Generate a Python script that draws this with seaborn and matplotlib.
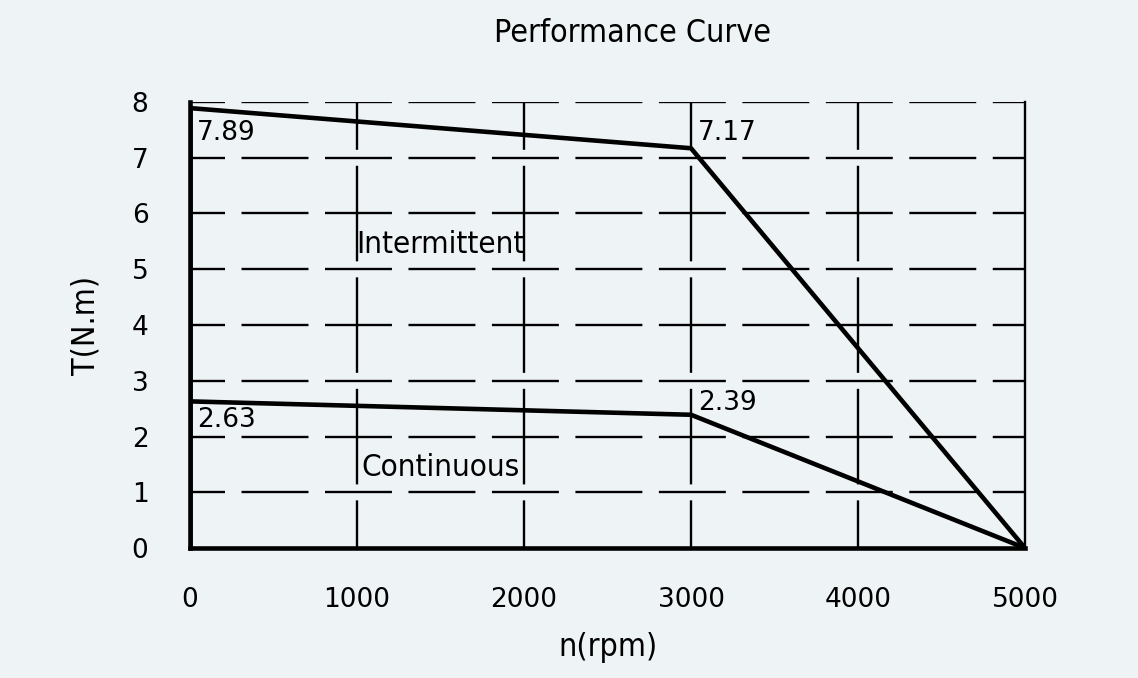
import matplotlib
matplotlib.use('Agg')
import matplotlib.pyplot as plt
import seaborn as sns
import pandas as pd

# 데이터
speed = [0, 3000, 5000]
torque_peak = [7.89, 7.17, 0]
torque_cont = [2.63, 2.39, 0]
x_ticks = [0, 1000, 2000, 3000, 4000, 5000]
y_ticks = [0, 1, 2, 3, 4, 5, 6, 7, 8]

df = pd.DataFrame({'n': speed, 'peak': torque_peak, 'cont': torque_cont})

bg = '#eef3f6'
sns.set_theme(style='white')
plt.rcParams['font.family'] = ['DejaVu Sans']
plt.rcParams['text.color'] = 'black'
plt.rcParams['lines.scale_dashes'] = False

fig = plt.figure(figsize=(11.38, 6.78), dpi=100, facecolor=bg)
ax = fig.add_axes([0.167, 0.1917, 0.7337, 0.6579])
ax.set_facecolor(bg)

sns.lineplot(data=df, x='n', y='peak', color='black', lw=3.3, ax=ax)
sns.lineplot(data=df, x='n', y='cont', color='black', lw=3.3, ax=ax)
ax.plot([speed[0], speed[0]], [0, torque_peak[0]], color='black', lw=3.3)

ax.set_xlim(0, 5000)
ax.set_ylim(0, 8)
ax.set_xticks(x_ticks)
ax.set_yticks(y_ticks)
ax.tick_params(length=0, labelsize=19, colors='black', pad=28)
ax.tick_params(axis='y', pad=30)

# 대시 그리드 (CAD 스타일)
ax.grid(False)
for t in y_ticks[1:]:
    ax.axhline(t, color='black', lw=1.7, ls=(23, (48.2, 11.9)), zorder=1)
for t in x_ticks[1:-1]:
    ax.axvline(t, color='black', lw=1.7, ls=(34.5, (68.8, 11.5)), zorder=1)

ax.spines['top'].set_visible(False)
ax.spines['right'].set_color('black')
ax.spines['right'].set_linewidth(1.7)
ax.spines['left'].set_color('black')
ax.spines['left'].set_linewidth(3.3)
ax.spines['bottom'].set_color('black')
ax.spines['bottom'].set_linewidth(3.3)

cad = dict(family='DejaVu Sans', stretch='condensed', color='black')
ax.set_xlabel('n(rpm)', fontsize=23, labelpad=14, **cad)
ax.set_ylabel('T(N.m)', fontsize=23, labelpad=22, **cad)
fig.text(0.556, 0.951, 'Performance Curve', ha='center', va='center', fontsize=23, **cad)

ax.text(1500, 5.45, 'Intermittent', ha='center', va='center', fontsize=22.5, **cad)
ax.text(1500, 1.45, 'Continuous', ha='center', va='center', fontsize=22.5, **cad)

offs = [(5, -18), (5, 11)]
for xv, yv, o in zip(speed[:2], torque_peak[:2], offs):
    ax.annotate(f'{yv:.2f}', (xv, yv), xytext=o, textcoords='offset points',
                ha='left', va='center', fontsize=19)
offs = [(5, -13.5), (5, 8.5)]
for xv, yv, o in zip(speed[:2], torque_cont[:2], offs):
    ax.annotate(f'{yv:.2f}', (xv, yv), xytext=o, textcoords='offset points',
                ha='left', va='center', fontsize=19)

fig.savefig('out.png', dpi=100, facecolor=bg)
